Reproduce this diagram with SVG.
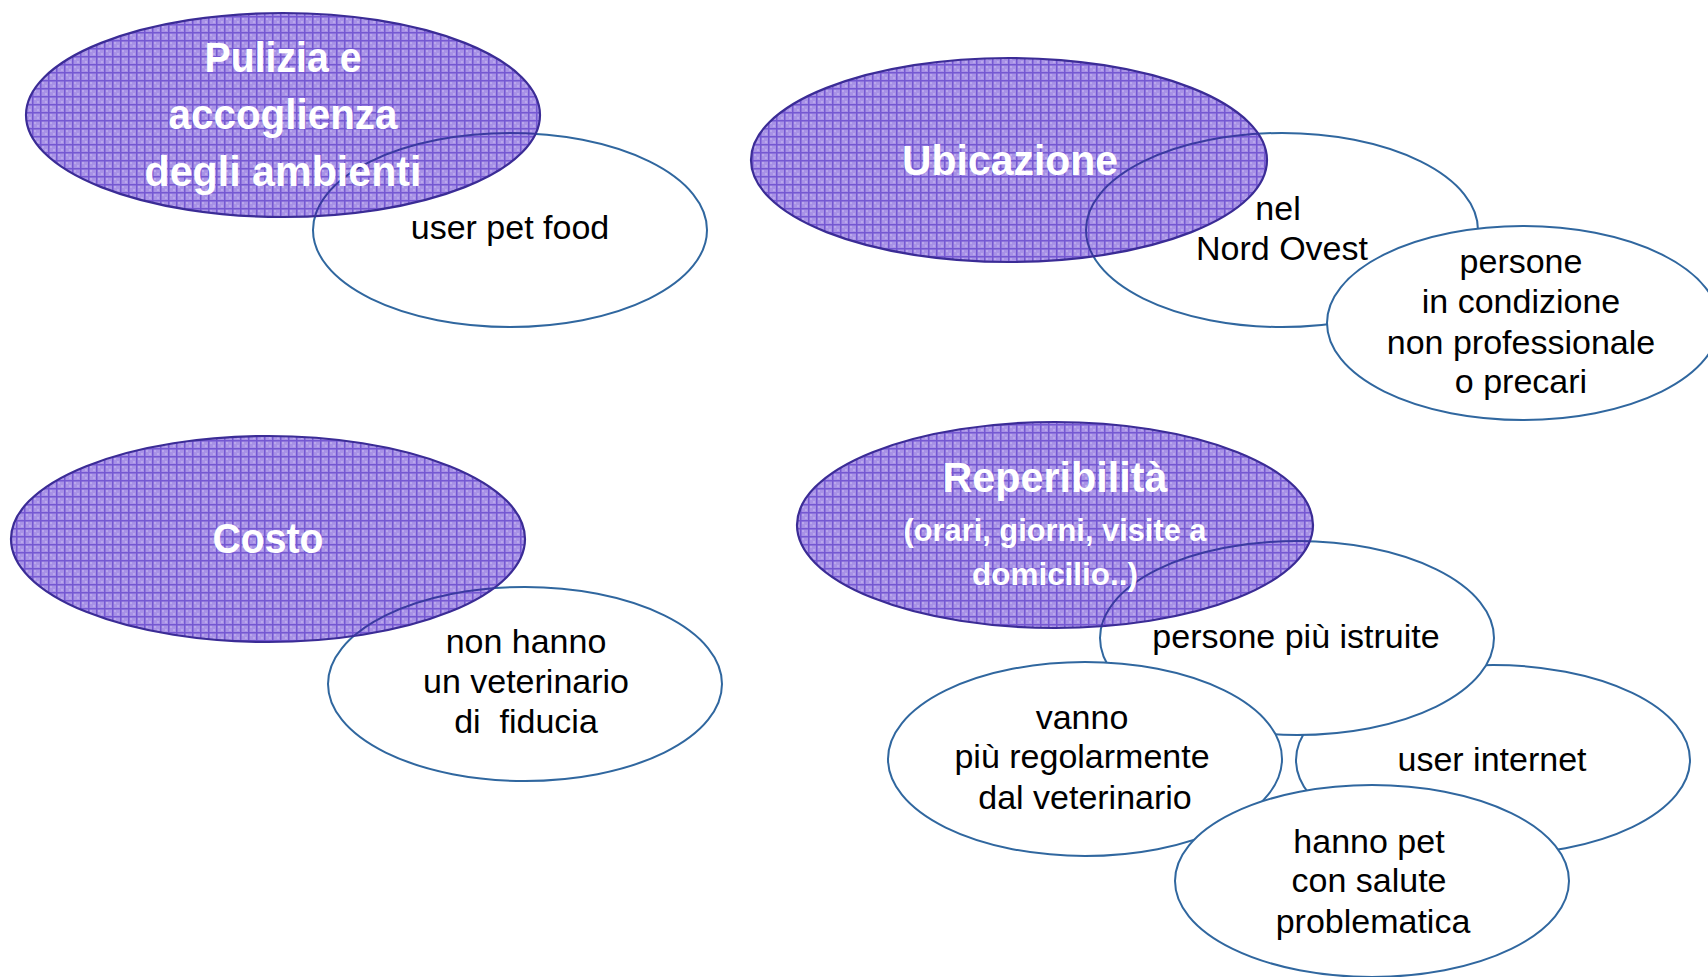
<svg xmlns="http://www.w3.org/2000/svg" width="1708" height="977" viewBox="0 0 1708 977">
<style>
.w{fill:#ffffff;stroke:#30679f;stroke-width:2}
.wo{fill:none;stroke:#3a3aa0;stroke-width:2}
.p{fill:url(#grid);stroke:#3b2c96;stroke-width:2.2}
.tw{font-family:"Liberation Sans",Arial,sans-serif;font-weight:bold;fill:#ffffff;text-anchor:middle;font-size:43px}
.tws{font-size:32px}
.tb{font-family:"Liberation Sans",Arial,sans-serif;fill:#000000;text-anchor:middle;font-size:34px}
</style>
<defs>
<pattern id="grid" width="8" height="8" patternUnits="userSpaceOnUse">
<rect width="8" height="8" fill="#a892e6"/>
<rect x="2" y="2" width="2" height="2" fill="#baa8ec"/>
<rect x="5" y="5" width="2" height="2" fill="#baa8ec"/>
<rect x="0" y="0" width="8" height="1.5" fill="#7558d2"/>
<rect x="0" y="0" width="1.5" height="8" fill="#7558d2"/>
</pattern>
<clipPath id="c1"><ellipse cx="283" cy="115" rx="257" ry="102"/></clipPath>
<clipPath id="c2"><ellipse cx="1009" cy="160" rx="258" ry="102"/></clipPath>
<clipPath id="c3"><ellipse cx="268" cy="539" rx="257" ry="103"/></clipPath>
<clipPath id="c4"><ellipse cx="1055" cy="525" rx="258" ry="103"/></clipPath>
</defs>

<g id="group-pulizia">
<g id="node-userpetfood"><ellipse class="w" cx="510" cy="230" rx="197" ry="97"/></g>
<g id="node-pulizia"><ellipse class="p" cx="283" cy="115" rx="257" ry="102"/></g>
<ellipse class="wo" clip-path="url(#c1)" cx="510" cy="230" rx="197" ry="97"/>
<text class="tw" x="283" y="72" textLength="157" lengthAdjust="spacingAndGlyphs">Pulizia e</text>
<text class="tw" x="283" y="129" textLength="229" lengthAdjust="spacingAndGlyphs">accoglienza</text>
<text class="tw" x="283" y="186" textLength="277" lengthAdjust="spacingAndGlyphs">degli ambienti</text>
<text class="tb" x="510" y="239">user pet food</text>
</g>

<g id="group-ubicazione">
<g id="node-nordovest"><ellipse class="w" cx="1282" cy="230" rx="196" ry="97"/></g>
<g id="node-persone"><ellipse class="w" cx="1523" cy="323" rx="196" ry="97"/></g>
<g id="node-ubicazione"><ellipse class="p" cx="1009" cy="160" rx="258" ry="102"/></g>
<ellipse class="wo" clip-path="url(#c2)" cx="1282" cy="230" rx="196" ry="97"/>
<text class="tw" x="1010" y="175" textLength="216" lengthAdjust="spacingAndGlyphs">Ubicazione</text>
<text class="tb" x="1278" y="220">nel</text>
<text class="tb" x="1282" y="260">Nord Ovest</text>
<text class="tb" x="1521" y="273">persone</text>
<text class="tb" x="1521" y="313">in condizione</text>
<text class="tb" x="1521" y="354">non professionale</text>
<text class="tb" x="1521" y="393">o precari</text>
</g>

<g id="group-costo">
<g id="node-nonhanno"><ellipse class="w" cx="525" cy="684" rx="197" ry="97"/></g>
<g id="node-costo"><ellipse class="p" cx="268" cy="539" rx="257" ry="103"/></g>
<ellipse class="wo" clip-path="url(#c3)" cx="525" cy="684" rx="197" ry="97"/>
<text class="tw" x="268" y="553" textLength="111" lengthAdjust="spacingAndGlyphs">Costo</text>
<text class="tb" x="526" y="653">non hanno</text>
<text class="tb" x="526" y="693">un veterinario</text>
<text class="tb" x="526" y="733" xml:space="preserve">di  fiducia</text>
</g>

<g id="group-reperibilita">
<g id="node-userinternet"><ellipse class="w" cx="1493" cy="760" rx="197" ry="95"/></g>
<g id="node-istruite"><ellipse class="w" cx="1297" cy="638" rx="197" ry="97"/></g>
<g id="node-vanno"><ellipse class="w" cx="1085" cy="759" rx="197" ry="97"/></g>
<g id="node-hannopet"><ellipse class="w" cx="1372" cy="881" rx="197" ry="96"/></g>
<g id="node-reperibilita"><ellipse class="p" cx="1055" cy="525" rx="258" ry="103"/></g>
<ellipse class="wo" clip-path="url(#c4)" cx="1297" cy="638" rx="197" ry="97"/>
<text class="tw" x="1055" y="492" textLength="225" lengthAdjust="spacingAndGlyphs">Reperibilità</text>
<text class="tw tws" x="1055" y="541" textLength="303" lengthAdjust="spacingAndGlyphs">(orari, giorni, visite a</text>
<text class="tw tws" x="1055" y="585" textLength="166" lengthAdjust="spacingAndGlyphs">domicilio..)</text>
<text class="tb" x="1296" y="648">persone più istruite</text>
<text class="tb" x="1082" y="729">vanno</text>
<text class="tb" x="1082" y="768">più regolarmente</text>
<text class="tb" x="1085" y="809">dal veterinario</text>
<text class="tb" x="1492" y="771">user internet</text>
<text class="tb" x="1369" y="853">hanno pet</text>
<text class="tb" x="1369" y="892">con salute</text>
<text class="tb" x="1373" y="933">problematica</text>
</g>

<g id="connectors"></g>
</svg>
